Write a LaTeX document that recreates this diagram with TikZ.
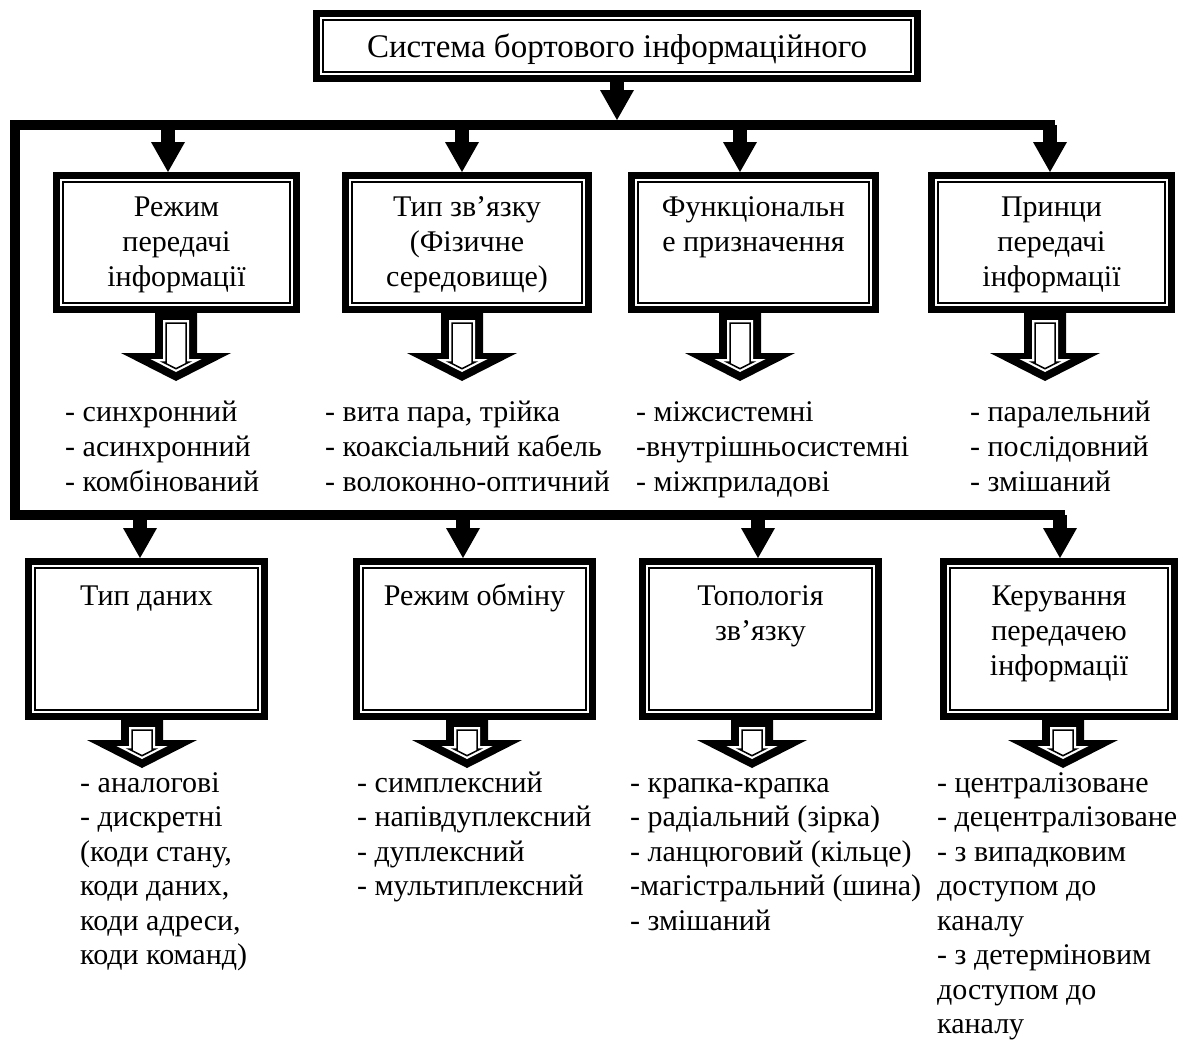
\documentclass[tikz,border=0pt]{standalone}
\usepackage{fontspec}
\setmainfont{Liberation Serif}
\usetikzlibrary{arrows.meta}
\begin{document}
\begin{tikzpicture}[x=1pt,y=-1pt,
  txt/.style={font=\fontsize{30}{35}\selectfont, inner sep=0pt},
  frame/.style={draw, line width=7pt, inner sep=0pt, fill=white},
  feed/.style={line width=14pt, -{Triangle[width=34pt,length=30pt,line width=0pt]}},
  bus/.style={line width=10pt, line cap=rect, line join=miter},
  list/.style={txt, align=left, anchor=north west},
  heading/.style={txt, align=center, anchor=north},
  pics/hollow/.style={code={
    \fill (-21,0) -- (-21,#1) -- (-55,#1) -- (0,#1+28) -- (55,#1) -- (21,#1) -- (21,0) -- cycle;
    \fill[white] (-13,7) -- (-13,#1+6) -- (-25.5,#1+6) -- (0,#1+19) -- (25.5,#1+6) -- (13,#1+6) -- (13,7) -- cycle;
    \draw[line width=1.5pt, fill=white, line join=miter] (-10,10) -- (-10,#1+9) -- (-13.2,#1+9) -- (0,#1+15.7) -- (13.2,#1+9) -- (10,#1+9) -- (10,10) -- cycle;
  }}
]
\useasboundingbox (0,0) rectangle (1184,1044);

% main title
\node[frame, minimum width=601pt, minimum height=65pt] (title) at (617,46) {};
\node[txt, font=\fontsize{33}{38}\selectfont, anchor=base] (tt) at (617,57) {Система бортового інформаційного};

% first row of boxes
\node[frame, minimum width=240pt, minimum height=134pt] (p1) at (176.5,242.5) {};
\node[frame, minimum width=243pt, minimum height=134pt] (p2) at (467,242.5) {};
\node[frame, minimum width=244pt, minimum height=134pt] (p3) at (753.5,242.5) {};
\node[frame, minimum width=240pt, minimum height=134pt] (p4) at (1051.5,242.5) {};

% second row of boxes
\node[frame, minimum width=236pt, minimum height=155pt] (q1) at (146.5,639) {};
\node[frame, minimum width=236pt, minimum height=155pt] (q2) at (474.5,639) {};
\node[frame, minimum width=236pt, minimum height=155pt] (q3) at (760.5,639) {};
\node[frame, minimum width=231pt, minimum height=155pt] (q4) at (1059,639) {};

% thin inner frame line of every box
\foreach \b in {title,p1,p2,p3,p4,q1,q2,q3,q4}
  \draw[line width=1.5pt] ([shift={(10pt,-10pt)}]\b.north west) rectangle ([shift={(-10pt,10pt)}]\b.south east);

% box headings
\node[heading] (hp1) at (176.5,191.5) {\strut Режим\\передачі\\інформації};
\node[heading] (hp2) at (467,191.5) {\strut Тип зв’язку\\(Фізичне\\середовище)};
\node[heading] (hp3) at (753.5,191.5) {\strut Функціональн\\е призначення};
\node[heading] (hp4) at (1051.5,191.5) {\strut Принци\\передачі\\інформації};
\node[heading] (hq1) at (146.5,580.5) {\strut Тип даних};
\node[heading] (hq2) at (474.5,580.5) {\strut Режим обміну};
\node[heading] (hq3) at (760.5,580.5) {\strut Топологія\\зв’язку};
\node[heading] (hq4) at (1059,580.5) {\strut Керування\\передачею\\інформації};

% distribution bus
\coordinate (tin) at (617,120);
\coordinate (tl) at (15,125);
\coordinate (tr) at (1050,125);
\coordinate (bl) at (15,515);
\coordinate (br) at (1060,515);
\draw[bus] (tr) -- (tl) -- (bl) -- (br);

\coordinate (t1) at (168,125);
\coordinate (t2) at (462,125);
\coordinate (t3) at (740,125);
\coordinate (b1) at (140,515);
\coordinate (b2) at (463,515);
\coordinate (b3) at (758,515);

\draw[feed] (title.south -| tin) -- (tin);
\draw[feed] (t1) -- (t1 |- p1.north);
\draw[feed] (t2) -- (t2 |- p2.north);
\draw[feed] (t3) -- (t3 |- p3.north);
\draw[feed] (tr) -- (tr |- p4.north);
\draw[feed] (b1) -- (b1 |- q1.north);
\draw[feed] (b2) -- (b2 |- q2.north);
\draw[feed] (b3) -- (b3 |- q3.north);
\draw[feed] (br) -- (br |- q4.north);

% hollow arrows under the boxes
\pic at (176,313) {hollow=40};
\pic at (462,313) {hollow=40};
\pic at (740,313) {hollow=40};
\pic at (1045,313) {hollow=40};
\pic at (142,720) {hollow=20};
\pic at (467,720) {hollow=20};
\pic at (752,720) {hollow=20};
\pic at (1063,720) {hollow=20};

% lists under the first row
\node[list] (l1) at (65,396.5) {\strut - синхронний\\- асинхронний\\- комбінований};
\node[list] (l2) at (325,396.5) {\strut - вита пара, трійка\\- коаксіальний кабель\\- волоконно-оптичний};
\node[list] (l3) at (636,396.5) {\strut - міжсистемні\\-внутрішньосистемні\\- міжприладові};
\node[list] (l4) at (970,396.5) {\strut - паралельний\\- послідовний\\- змішаний};

% lists under the second row
\tikzset{list2/.style={list, font=\fontsize{30}{34.5}\selectfont}}
\node[list2] (m1) at (80,768) {\strut - аналогові\\- дискретні\\(коди стану,\\коди даних,\\коди адреси,\\коди команд)};
\node[list2] (m2) at (357,768) {\strut - симплексний\\- напівдуплексний\\- дуплексний\\- мультиплексний};
\node[list2] (m3) at (630,768) {\strut - крапка-крапка\\- радіальний (зірка)\\- ланцюговий (кільце)\\-магістральний (шина)\\- змішаний};
\node[list2] (m4) at (937,768) {\strut - централізоване\\- децентралізоване\\- з випадковим\\доступом до\\каналу\\- з детерміновим\\доступом до\\каналу};
\end{tikzpicture}
\end{document}
